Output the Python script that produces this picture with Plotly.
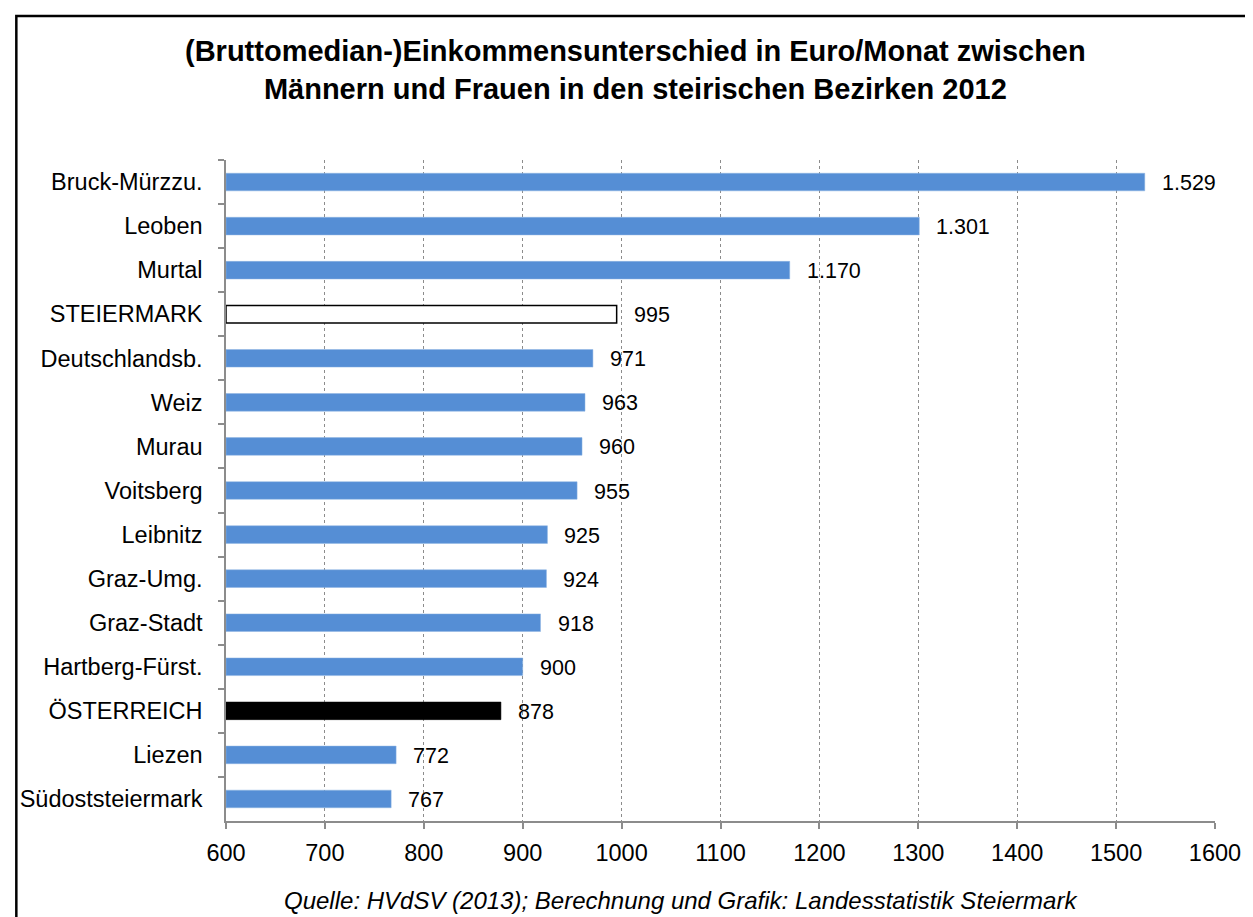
import plotly.graph_objects as go

categories = ["Bruck-Mürzzu.", "Leoben", "Murtal", "STEIERMARK", "Deutschlandsb.", "Weiz",
              "Murau", "Voitsberg", "Leibnitz", "Graz-Umg.", "Graz-Stadt", "Hartberg-Fürst.",
              "ÖSTERREICH", "Liezen", "Südoststeiermark"]
values = [1529, 1301, 1170, 995, 971, 963, 960, 955, 925, 924, 918, 900, 878, 772, 767]
x_ticks = [600, 700, 800, 900, 1000, 1100, 1200, 1300, 1400, 1500, 1600]

AXIS_MIN = 600
BLUE = "#558ED5"

def de_fmt(v):
    return f"{v:,}".replace(",", ".")

fill_colors = []
line_colors = []
line_widths = []
for c in categories:
    if c == "STEIERMARK":
        fill_colors.append("white"); line_colors.append("black"); line_widths.append(1.5)
    elif c == "ÖSTERREICH":
        fill_colors.append("black"); line_colors.append("black"); line_widths.append(0.5)
    else:
        fill_colors.append(BLUE); line_colors.append("#8EB4E3"); line_widths.append(0.5)

FONT = "Arial, 'Liberation Sans', sans-serif"

fig = go.Figure()
fig.add_trace(go.Bar(
    y=categories,
    x=[v - AXIS_MIN for v in values],
    base=AXIS_MIN,
    orientation="h",
    marker=dict(color=fill_colors, line=dict(color=line_colors, width=line_widths)),
    hoverinfo="skip",
))

annotations = []
for c, v in zip(categories, values):
    annotations.append(dict(x=v, y=c, xref="x", yref="y", text=de_fmt(v), showarrow=False,
                            xanchor="left", yanchor="middle", xshift=15, yshift=-1,
                            font=dict(family=FONT, size=21.5, color="black")))

annotations.append(dict(x=0.414, y=1.136, xref="paper", yref="paper",
                        text="<b>(Bruttomedian-)Einkommensunterschied in Euro/Monat zwischen<br>Männern und Frauen in den steirischen Bezirken 2012</b>",
                        showarrow=False, xanchor="center", yanchor="middle",
                        font=dict(family=FONT, size=29, color="black")))
annotations.append(dict(x=0.46, y=-0.121, xref="paper", yref="paper",
                        text="<i>Quelle: HVdSV (2013); Berechnung und Grafik: Landesstatistik Steiermark</i>",
                        showarrow=False, xanchor="center", yanchor="middle",
                        font=dict(family=FONT, size=24, color="black")))

fig.update_layout(
    width=1245, height=909,
    margin=dict(l=214, r=31, t=152, b=96),
    paper_bgcolor="white", plot_bgcolor="white",
    showlegend=False,
    bargap=0.6,
    font=dict(family=FONT, size=23.5, color="black"),
    annotations=annotations,
    shapes=[dict(type="rect", xref="paper", yref="paper",
                 x0=-0.212, x1=1.05, y0=-0.2, y1=(813 - 8) / 661,
                 line=dict(color="black", width=2.5), fillcolor="rgba(0,0,0,0)", layer="above")],
)

fig.update_xaxes(
    range=[AXIS_MIN, 1600], tickvals=x_ticks, ticktext=[str(t) for t in x_ticks],
    showgrid=True, gridcolor="#8C8C8C", griddash="dot", gridwidth=1,
    showline=True, linecolor="#8C8C8C", linewidth=1.5,
    ticks="outside", ticklen=6, tickcolor="#8C8C8C", tickwidth=1.5,
    tickfont=dict(family=FONT, size=23.5, color="black"), zeroline=False,
    ticklabelstandoff=4,
)
fig.update_yaxes(
    autorange="reversed", type="category",
    showgrid=False, showline=True, linecolor="#8C8C8C", linewidth=1.5,
    ticks="outside", ticklen=6, tickcolor="#8C8C8C", tickwidth=1.5, tickson="boundaries",
    tickfont=dict(family=FONT, size=23.5, color="black"),
    ticklabelstandoff=17,
)

fig.write_html("out.html")
